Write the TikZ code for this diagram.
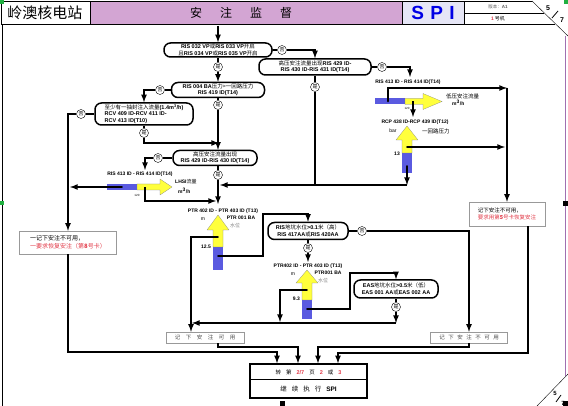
\documentclass[tikz,border=0pt]{standalone}
\usepackage{fontspec}
\setmainfont{Liberation Sans}
\newfontfamily\cjk{Noto Sans CJK SC}
\newcommand\zh[1]{{\cjk #1}}
\definecolor{lilac}{HTML}{D3A5D3}
\definecolor{framepurple}{HTML}{A070B0}
\definecolor{gblue}{HTML}{5A5AE0}
\definecolor{gyel}{HTML}{FFFF3C}
\definecolor{rd}{HTML}{E23A48}
\definecolor{spibg}{HTML}{E6E6F6}
\definecolor{handle}{HTML}{20B040}

\tikzset{
  dec/.style={draw, line width=1.5pt, rounded corners=6.5pt, fill=white, align=center, inner sep=0pt, font=\fontsize{5.5}{6.5}\selectfont},
  yn/.style={circle, draw, thin, fill=white, inner sep=0pt, minimum size=9pt, font=\fontsize{5}{5}\selectfont\cjk},
  note/.style={draw=gray!80, thin, fill=white, inner sep=0pt},
  lab/.style={inner sep=0pt, font=\fontsize{5}{5}\selectfont\bfseries},
  small/.style={inner sep=0pt, font=\fontsize{5}{5.5}\selectfont},
  flow/.style={line width=1.6pt, ->, >=latex},
  wire/.style={line width=1.6pt},
}

\begin{document}
\begin{tikzpicture}[x=1pt,y=-1pt]
	\useasboundingbox (0,0) rectangle (568,406);
	% header
	\filldraw[fill=lilac, draw=black] (90,1) rectangle (402,24);
	\filldraw[fill=spibg, draw=black] (402,1) rectangle (464,24);
	\draw (1,1) rectangle (90,24);
	\draw (464,1) -- (532,1);
	\draw (464,13) -- (544,13);
	\draw (1,24) -- (555,24);
	\draw (532,1) -- (568,36);
	\node[inner sep=0pt, font=\fontsize{15}{15}\selectfont\cjk] (hd1) at (45,13) {岭澳核电站};
	\node[inner sep=0pt, font=\fontsize{12}{12}\selectfont\cjk] (hd2) at (241,13) {安\hspace{18pt}注\hspace{18pt}监\hspace{18pt}督};
	\node[inner sep=0pt, font=\fontsize{19}{19}\selectfont\bfseries, text=blue!90!black] (hd3) at (433,13) {S\,\,P\,\,I};
	\node[small, text=gray!70!black, font=\fontsize{4.5}{5}\selectfont] (hd4) at (498,7) {\zh{版本：}\textbf{A1}};
	\node[small] (hd5) at (498,19) {\textcolor{rd}{\textbf{1}}\,\zh{号机}};
	\node[lab, font=\fontsize{7}{7}\selectfont\bfseries] (pg1) at (548,8) {5};
	\node[lab, font=\fontsize{7}{7}\selectfont\bfseries] (pg2) at (562,20) {7};
	\draw[thick] (552,18) -- (558,11);
	% frame
	\draw (2,24) -- (2,406);
	\draw[framepurple] (565,36) -- (565,376);
	\draw (537,406) -- (568,374);
	\node[lab, font=\fontsize{6}{6}\selectfont\bfseries] (pg3) at (555,393) {5};
	\node[lab, font=\fontsize{6}{6}\selectfont\bfseries] (pg4) at (563,403) {7};
	\draw[thick] (556,402) -- (561,395);
	\foreach \n in {(0,0), (564,0), (0,201)}
		\fill[handle] \n rectangle ++(4,4);
	\foreach \n in {(563,201), (280,401), (563,401)}
		\fill \n rectangle ++(5,5);

	% gauges
	\foreach \x/\t/\b/\s/\e in {218/215/230/247/270, 407/126/140/153/173, 307/270/283/300/319}{
		\fill[gblue] (\x-5,\s) rectangle (\x+5,\e);
		\filldraw[fill=gyel, draw=gray, very thin] (\x-5,\s) -- (\x-5,\b) -- (\x-11,\b) -- (\x,\t) -- (\x+11,\b) -- (\x+5,\b) -- (\x+5,\s) -- cycle;
	}
	\foreach \y/\l/\m/\b/\t in {187/107/137/160/172, 101.5/375/405/423/442}{
		\fill[gblue] (\l,\y-3) rectangle (\m,\y+3);
		\filldraw[fill=gyel, draw=gray, very thin] (\m,\y-3) -- (\b,\y-3) -- (\b,\y-8) -- (\t,\y) -- (\b,\y+8) -- (\b,\y+3) -- (\m,\y+3) -- cycle;
	}
	\node[small, anchor=west] (g1t) at (175,182) {\textbf{LHSI}\zh{流量}};
	\node[small, anchor=west] (g1u) at (178,191) {\textbf{m\textsuperscript{3}/h}};
	\node[small, font=\fontsize{3}{3}\selectfont] (g1n) at (137,195) {120};
	\node[small, anchor=west, font=\fontsize{5.5}{5.5}\selectfont] (g3t) at (446,96) {\zh{低压安注流量}};
	\node[small, anchor=west] (g3u) at (452,103) {\textbf{m\textsuperscript{3}/h}};
	\node[small, font=\fontsize{3}{3}\selectfont] (g3n) at (407,108) {120};
	\node[small] (g2m) at (203,219) {m};
	\node[lab] (g2a) at (241,218) {PTR 001 BA};
	\node[small, text=gray] (g2b) at (235,226) {\zh{水位}};
	\node[lab, anchor=east] (g2v) at (211,247) {12.5};
	\node[small] (g4m) at (393,131) {bar};
	\node[small, anchor=west, font=\fontsize{5.5}{5.5}\selectfont] (g4a) at (422,131) {\zh{一回路压力}};
	\node[lab, anchor=east] (g4v) at (400,154) {13};
	\node[small] (g5m) at (293,274) {m};
	\node[lab] (g5a) at (328,273) {PTR001 BA};
	\node[small, text=gray] (g5b) at (323,281) {\zh{水位}};
	\node[lab, anchor=east] (g5v) at (300,299) {9.3};

	% checks
	\node[dec, minimum width=108pt, minimum height=14pt] (b1) at (218,50) {\textbf{RIS 032 VP}\zh{或}\textbf{RIS 033 VP}\zh{开启}\\\zh{且}\textbf{RIS 034 VP}\zh{或}\textbf{RIS 035 VP}\zh{开启}};
	\node[dec, minimum width=112pt, minimum height=16pt] (b2) at (315,67) {\zh{高压安注流量出现}\textbf{RIS 429 ID-}\\\textbf{RIS 430 ID-RIS 431 ID(T14)}};
	\node[dec, minimum width=93pt, minimum height=15pt] (b3) at (218,90) {\textbf{RIS 004 BA}\zh{压力>一回路压力}\\\textbf{RIS 419 ID(T14)}};
	\node[dec, minimum width=98pt, minimum height=22pt, align=left] (b4) at (144,114) {\zh{至少有一抽封注入流量}\textbf{(1.4m\textsuperscript{3}/h)}\\\textbf{RCV 409 ID-RCV 411 ID-}\\\textbf{RCV 413 ID(T10)}};
	\node[dec, minimum width=84pt, minimum height=15pt] (b5) at (215,158) {\zh{高压安注流量出现}\\\textbf{RIS 429 ID-RIS 430 ID(T14)}};
	\node[dec, minimum width=80pt, minimum height=17pt] (b6) at (308,231) {\textbf{RIS}\zh{地坑水位}\textbf{>0.1}\zh{米（高）}\\\textbf{RIS 417AA}\zh{或}\textbf{RIS 420AA}};
	\node[dec, minimum width=84pt, minimum height=18pt] (b7) at (396,289) {\textbf{EAS}\zh{地坑水位}\textbf{>0.5}\zh{米（低）}\\\textbf{EAS 001 AA}\zh{或}\textbf{EAS 002 AA}};

	% yes / no
	\node[yn] (n1) at (282,50) {否};
	\node[yn] (y1) at (218,67) {是};
	\node[yn] (n2) at (382,67) {否};
	\node[yn] (y2) at (315,87) {是};
	\node[yn] (n3) at (160,90) {否};
	\node[yn] (y3) at (218,105) {是};
	\node[yn] (n4) at (81,114) {否};
	\node[yn] (y4) at (144,133) {是};
	\node[yn] (n5) at (158,158) {否};
	\node[yn] (y5) at (218,175) {是};
	\node[yn] (n6) at (362,231) {否};
	\node[yn] (y6) at (308,248) {是};
	\node[yn] (y7) at (396,307) {是};

	% tags
	\node[lab] (l1) at (408,82) {RIS 413 ID - RIS 414 ID(T14)};
	\node[lab] (l2) at (140,174) {RIS 413 ID - RIS 414 ID(T14)};
	\node[lab] (l3) at (415,122) {RCP 438 ID-RCP 439 ID(T12)};
	\node[lab] (l4) at (223,211) {PTR 402 ID - PTR 403 ID (T13)};
	\node[lab] (l5) at (308,266) {PTR402 ID - PTR 403 ID (T13)};

	% results
	\node[note, minimum width=97pt, minimum height=23pt, align=left, font=\fontsize{6}{7.5}\selectfont\cjk] (k3) at (68,242.5) {一记下安注不可用，\\\textcolor{rd}{一要求恢复安注（第\textbf{8}号卡）}};
	\node[note, minimum width=76pt, minimum height=24pt, align=left, font=\fontsize{5.5}{7}\selectfont\cjk] (k4) at (507,214) {记下安注不可用，\\\textcolor{rd}{要求用第\textbf{5}号卡恢复安注}};
	\node[note, minimum width=78pt, minimum height=11pt, text=gray!60!black, font=\fontsize{5.5}{5.5}\selectfont\cjk] (k1) at (205,337.5) {记\hspace{5.5pt}下\hspace{5.5pt}安\hspace{5.5pt}注\hspace{5.5pt}可\hspace{5.5pt}用};
	\node[note, minimum width=77pt, minimum height=11pt, text=gray!60!black, font=\fontsize{5.5}{5.5}\selectfont\cjk] (k2) at (469,337.5) {记\hspace{3.5pt}下\hspace{3.5pt}安\hspace{3.5pt}注\hspace{3.5pt}不\hspace{3.5pt}可\hspace{3.5pt}用};
	\node[draw, line width=1.5pt, fill=white, minimum width=117pt, minimum height=34pt] (spi) at (308.5,381) {};
	\draw[line width=1pt] (spi.west |- 0,379) -- (spi.east |- 0,379);
	\node[small, font=\fontsize{5.5}{5.5}\selectfont] (spi1) at (308.5,372) {\zh{转}\hspace{5pt}\zh{第}\hspace{5pt}\textcolor{rd}{\textbf{2/7}}\hspace{5pt}\zh{页}\hspace{5pt}\textcolor{rd}{\textbf{2}}\hspace{5pt}\zh{或}\hspace{5pt}\textcolor{rd}{\textbf{3}}};
	\node[small, font=\fontsize{6.5}{6.5}\selectfont] (spi2) at (308.5,389) {\zh{继}\hspace{5pt}\zh{续}\hspace{5pt}\zh{执}\hspace{5pt}\zh{行}\hspace{5pt}\textbf{SPI}};

	% pointers and joints
	\coordinate (top) at (218,26);
	\coordinate (g1lo) at (122,187);
	\coordinate (g1hi) at (145,187);
	\coordinate (g2hi) at (218,237);
	\coordinate (g2lo) at (218,256);
	\coordinate (g3lo) at (388,101.5);
	\coordinate (g3hi) at (413,101.5);
	\coordinate (g4hi) at (407,147);
	\coordinate (g4lo) at (407,166);
	\coordinate (g5hi) at (307,290);
	\coordinate (g5lo) at (307,309);
	\coordinate (l1t) at (410,77);
	\coordinate (l2t) at (145,170);
	\coordinate (l3t) at (413,117);
	\coordinate (l4t) at (218,204);
	\coordinate (l5t) at (308,262);
	\coordinate (j1) at (219,143);
	\coordinate (j2) at (407,185);
	\coordinate (j3) at (220,185);
	\coordinate (g1l) at (70,187);
	\coordinate (g1r) at (216,201);
	\coordinate (c2) at (191,237);
	\coordinate (c5) at (280,322);
	\coordinate (h1) at (396,323);
	\coordinate (h2) at (192,323);
	\coordinate (r1) at (507,88);
	\coordinate (r2) at (505,147);
	\coordinate (e1) at (277,352);
	\coordinate (e2) at (298,347);
	\coordinate (e3) at (318,347);
	\coordinate (e4) at (338,353);
	\foreach \n in {(g1lo), (g2lo), (g3lo), (g4lo), (g5lo), (g2hi), (g4hi), (g5hi)}
		\node at \n [circle,fill,inner sep=0.7pt]{};

	% connectors
	\draw[flow] (top) -- (b1);
	\draw[wire] (b1) -- (n1);
	\draw[flow] (n1) -| (b2);
	\draw[wire] (b1) -- (y1);
	\draw[flow] (y1) -- (b3);
	\draw[wire] (b2) -- (n2);
	\draw[flow] (n2) -| (l1t);
	\draw[wire] (b2) -- (y2);
	\draw[wire] (y2) |- (j2);
	\draw[flow] (j2) -- (j3);
	\draw[wire] (b3) -- (n3);
	\draw[flow] (n3) -| (b4);
	\draw[wire] (b3) -- (y3);
	\draw[flow] (y3) -- (y3 |- b5.north);
	\draw[wire] (b4) -- (n4);
	\draw[flow] (n4) -| (k3);
	\draw[wire] (b4) -- (y4);
	\draw[flow] (y4) |- (j1);
	\draw[wire] (b5) -- (n5);
	\draw[flow] (n5) -| (l2t);
	\draw[wire] (y5 |- b5.south) -- (y5);
	\draw[flow] (y5) -- (l4t);
	\draw[flow] (g1lo) -- (g1l);
	\draw[flow] (g1hi) |- (g1r);
	\draw[flow] (g2hi) -- (c2) -- (c2 |- k1.north);
	\draw[flow] (g2lo) -- (263,256) -- (263,214) -| (b6);
	\draw[flow] (g3lo) |- (r1);
	\draw[flow] (r1) -- (r1 |- k4.north);
	\draw[flow] (g3hi) -- (l3t);
	\draw[flow] (g4hi) -- (r2);
	\draw[flow] (g4lo) -- (j2);
	\draw[wire] (b6) -- (n6);
	\draw[flow] (n6) -| (k2);
	\draw[wire] (b6) -- (y6);
	\draw[flow] (y6) -- (l5t);
	\draw[flow] (g5hi) -| (c5);
	\draw[flow] (g5lo) -- (350,309) -- (350,273) -| (b7);
	\draw[wire] (b7) -- (y7);
	\draw[flow] (y7) -- (h1);
	\draw[flow] (h1) -- (h2);
	\draw[flow] (k3) |- (e1) -- (e1 |- spi.north);
	\draw[flow] ([xshift=13pt]k1.south) |- (e2) -- (e2 |- spi.north);
	\draw[flow] (k2) |- (e3) -- (e3 |- spi.north);
	\draw[flow] ([xshift=21pt]k4.south) |- (e4) -- (e4 |- spi.north);
\end{tikzpicture}
\end{document}
